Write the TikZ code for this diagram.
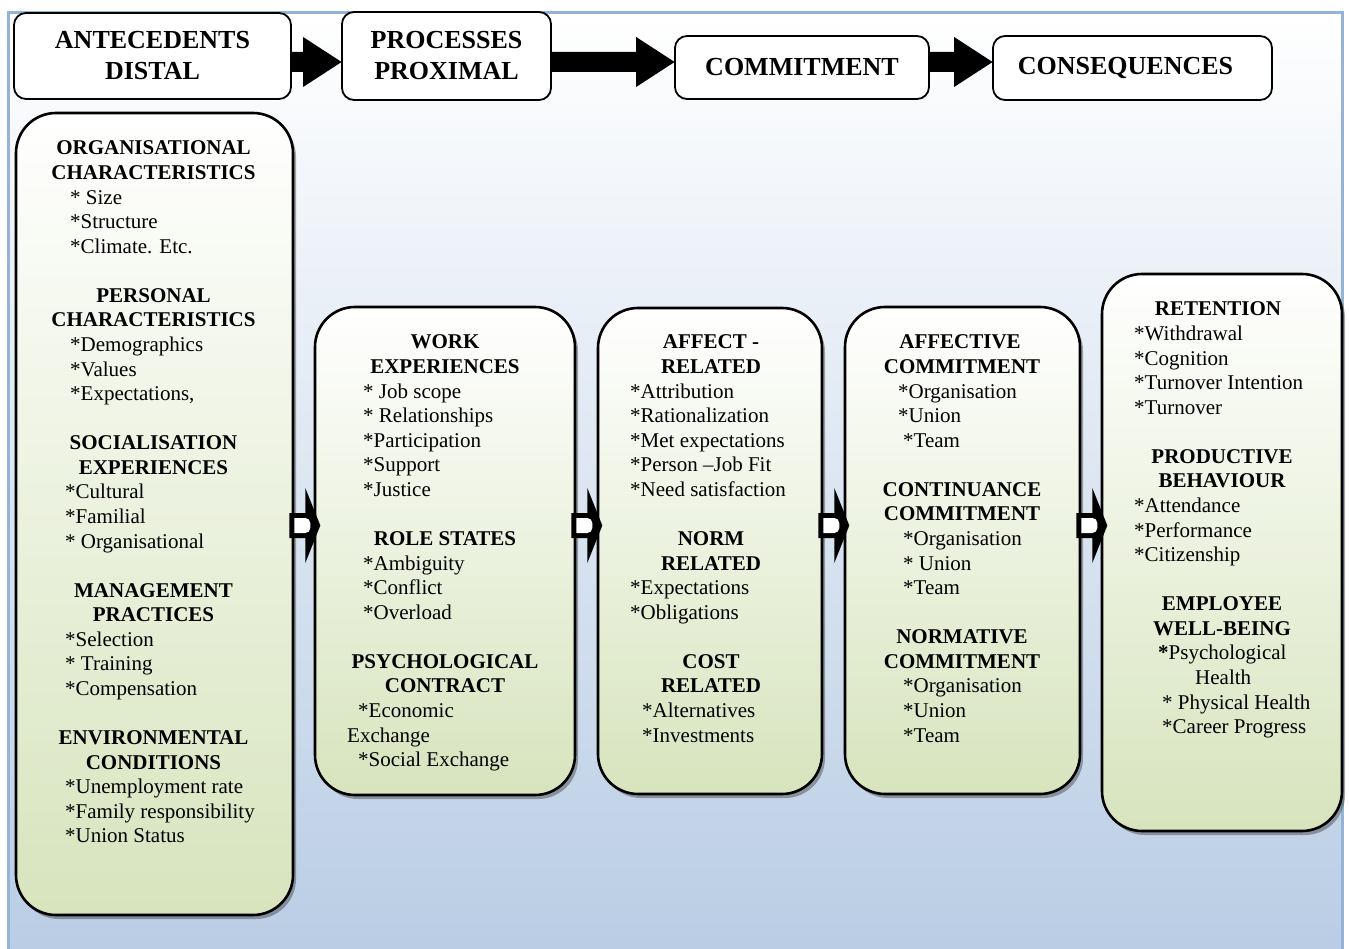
\documentclass[tikz,border=0pt]{standalone}
\usepackage{fontspec}
\setmainfont{Liberation Serif}
\usetikzlibrary{calc,shadows}

\definecolor{framebg}{HTML}{B8CCE4}
\definecolor{frameline}{HTML}{95B3D7}
\definecolor{panelgreen}{HTML}{D7E4BD}

\tikzset{
  titlebox/.style={draw=black, line width=1.8pt, fill=white, rounded corners=12pt,
    align=center, font=\bfseries\fontsize{26}{31}\selectfont, inner sep=0pt},
  panel/.style={draw=black, line width=2.6pt, rounded corners=40pt,
    top color=white, bottom color=panelgreen,
    drop shadow={shadow xshift=3pt, shadow yshift=-4pt, opacity=0.45, fill=black!75}},
  head/.style={font=\bfseries\fontsize{21}{24}\selectfont, anchor=base, inner sep=0pt},
  item/.style={font=\fontsize{21}{24}\selectfont, anchor=base west, inner sep=0pt},
}

% thick black arrow between two stage titles
\newcommand\bigarrow[2]{%
  \fill[black] ($(#1.east|-toprow)+(-1,-10)$) -- ($(#2.west|-toprow)+(-38,-10)$)
    -- ($(#2.west|-toprow)+(-38,-25)$) -- ($(#2.west|-toprow)+(0.5,0)$)
    -- ($(#2.west|-toprow)+(-38,25)$) -- ($(#2.west|-toprow)+(-38,10)$)
    -- ($(#1.east|-toprow)+(-1,10)$) -- cycle;}

% small outlined arrow leaving the right side of a panel
\newcommand\hollowarrow[1]{%
  \coordinate (ha) at ($(#1.east|-arrowrow)+(-5,0)$);
  \fill[black] ($(ha)+(16,-37.5)$) -- ($(ha)+(16,37.5)$) -- ($(ha)+(31,0)$) -- cycle;
  \fill[black] ($(ha)+(0,-12.5)$) {[rounded corners=8pt] -- ($(ha)+(26,-12.5)$)
    -- ($(ha)+(26,12.5)$)} -- ($(ha)+(0,12.5)$) -- cycle;
  \fill[white] ($(ha)+(5,-7.5)$) {[rounded corners=5pt] -- ($(ha)+(21,-7.5)$)
    -- ($(ha)+(21,7.5)$)} -- ($(ha)+(5,7.5)$) -- cycle;}

\begin{document}
\begin{tikzpicture}[x=1pt, y=-1pt]
\useasboundingbox (0,0) rectangle (1349,949);
\clip (0,0) rectangle (1349,949);
\fill[white] (0,0) rectangle (1349,949);

% backdrop
\shade[top color=white, bottom color=framebg] (8,13) rectangle (1342.5,970);
\draw[frameline, line width=3pt] (8,13) rectangle (1342.5,970);

\coordinate (toprow) at (0,62);
\coordinate (arrowrow) at (0,525.5);

% stage titles
\node[titlebox, minimum width=277pt, minimum height=86pt] (ante) at (152.5,56) {ANTECEDENTS\\DISTAL};
\node[titlebox, minimum width=209pt, minimum height=88pt] (proc) at (446.5,56) {PROCESSES\\PROXIMAL};
\node[titlebox, minimum width=254pt, minimum height=63pt] (comm) at (802,67.5) {COMMITMENT};
\node[titlebox, minimum width=279pt, minimum height=64pt] (cons) at (1132.5,68) {CONSEQUENCES\rule{14pt}{0pt}};

\bigarrow{ante}{proc}
\bigarrow{proc}{comm}
\bigarrow{comm}{cons}

% content panels
\node[panel, minimum width=277pt, minimum height=802pt] (p1) at (154.5,514) {};
\node[panel, minimum width=260pt, minimum height=488pt] (p2) at (445,551) {};
\node[panel, minimum width=224pt, minimum height=486pt] (p3) at (710,551) {};
\node[panel, minimum width=235pt, minimum height=487pt] (p4) at (962.5,550.5) {};
\node[panel, minimum width=240pt, minimum height=557pt] (p5) at (1222,552.5) {};

% panel 1: antecedents
\foreach \idx/\txt in {0/ORGANISATIONAL,1/CHARACTERISTICS,6/PERSONAL,7/CHARACTERISTICS,
    12/SOCIALISATION,13/EXPERIENCES,18/MANAGEMENT,19/PRACTICES,24/ENVIRONMENTAL,25/CONDITIONS}
  \node[head, name=ah\idx] at (153.5,{155+\idx*24.57}) {\txt};
\foreach \idx/\xx/\txt in {2/70/{* Size},3/70/{*Structure},4/70/{*Climate. Etc.},
    8/70/{*Demographics},9/70/{*Values},10/70/{*Expectations,},
    14/65/{*Cultural},15/65/{*Familial},16/65/{* Organisational},
    20/65/{*Selection},21/65/{* Training},22/65/{*Compensation},
    26/65/{*Unemployment rate},27/65/{*Family responsibility},28/65/{*Union Status}}
  \node[item, name=ai\idx] at (\xx,{155+\idx*24.57}) {\txt};

% panel 2: processes
\foreach \idx/\txt in {0/WORK,1/EXPERIENCES,8/{ROLE STATES},13/PSYCHOLOGICAL,14/CONTRACT}
  \node[head, name=bh\idx] at (445,{349+\idx*24.57}) {\txt};
\foreach \idx/\xx/\txt in {2/363/{* Job scope},3/363/{* Relationships},4/363/{*Participation},
    5/363/{*Support},6/363/{*Justice},9/363/{*Ambiguity},10/363/{*Conflict},11/363/{*Overload},
    15/358/{*Economic},16/347/{Exchange},17/358/{*Social Exchange}}
  \node[item, name=bi\idx] at (\xx,{349+\idx*24.57}) {\txt};

% panel 3: processes related to commitment
\foreach \idx/\txt in {0/{AFFECT -},1/RELATED,8/NORM,9/RELATED,13/COST,14/RELATED}
  \node[head, name=ch\idx] at (711,{349+\idx*24.57}) {\txt};
\foreach \idx/\xx/\txt in {2/630/{*Attribution},3/630/{*Rationalization},4/630/{*Met expectations},
    5/630/{*Person –Job Fit},6/630/{*Need satisfaction},10/630/{*Expectations},11/630/{*Obligations},
    15/642/{*Alternatives},16/642/{*Investments}}
  \node[item, name=ci\idx] at (\xx,{349+\idx*24.57}) {\txt};

% panel 4: commitment
\foreach \idx/\xx/\txt in {0/960/AFFECTIVE,1/962/COMMITMENT,6/962/CONTINUANCE,7/962/COMMITMENT,
    12/962/NORMATIVE,13/962/COMMITMENT}
  \node[head, name=dh\idx] at (\xx,{349+\idx*24.57}) {\txt};
\foreach \idx/\xx/\txt in {2/898/{*Organisation},3/898/{*Union},4/903/{*Team},
    8/903/{*Organisation},9/903/{* Union},10/903/{*Team},
    14/903/{*Organisation},15/903/{*Union},16/903/{*Team}}
  \node[item, name=di\idx] at (\xx,{349+\idx*24.57}) {\txt};

% panel 5: consequences
\foreach \idx/\xx/\txt in {0/1218/RETENTION,6/1222/PRODUCTIVE,7/1222/BEHAVIOUR,
    12/1222/EMPLOYEE,13/1222/WELL-BEING}
  \node[head, name=eh\idx] at (\xx,{316+\idx*24.57}) {\txt};
\foreach \idx/\xx/\txt in {1/1134/{*Withdrawal},2/1134/{*Cognition},3/1134/{*Turnover Intention},
    4/1134/{*Turnover},8/1134/{*Attendance},9/1134/{*Performance},10/1134/{*Citizenship},
    14/1158/{\textbf{*}Psychological},15/1195/{Health},16/1162/{* Physical Health},
    17/1162/{*Career Progress}}
  \node[item, name=ei\idx] at (\xx,{316+\idx*24.57}) {\txt};

% links between panels
\hollowarrow{p1}
\hollowarrow{p2}
\hollowarrow{p3}
\hollowarrow{p4}
\end{tikzpicture}
\end{document}
